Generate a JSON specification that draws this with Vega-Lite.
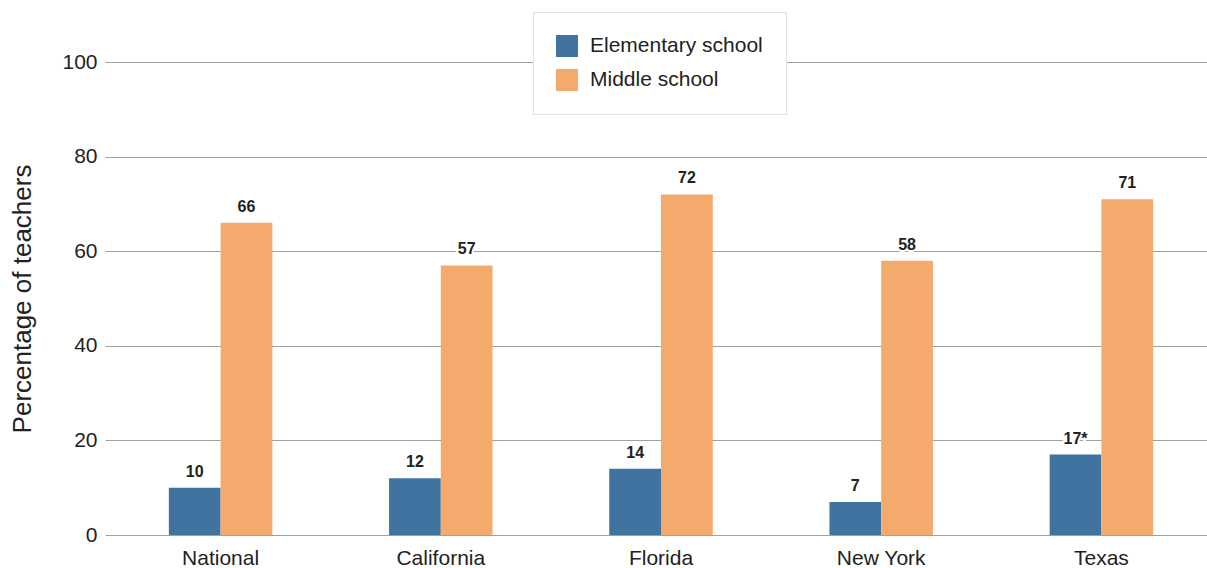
{
  "$schema": "https://vega.github.io/schema/vega-lite/v6.json",
  "width": 1112,
  "height": 473,
  "autosize": {"type": "none"},
  "padding": {"left": 105, "top": 62, "right": -10, "bottom": 33},
  "background": "white",
  "config": {
    "font": "Liberation Sans",
    "view": {"stroke": null}
  },
  "data": {
    "values": [
      {"region": "National", "school": "Elementary school", "value": 10, "label": "10"},
      {"region": "National", "school": "Middle school", "value": 66, "label": "66"},
      {"region": "California", "school": "Elementary school", "value": 12, "label": "12"},
      {"region": "California", "school": "Middle school", "value": 57, "label": "57"},
      {"region": "Florida", "school": "Elementary school", "value": 14, "label": "14"},
      {"region": "Florida", "school": "Middle school", "value": 72, "label": "72"},
      {"region": "New York", "school": "Elementary school", "value": 7, "label": "7"},
      {"region": "New York", "school": "Middle school", "value": 58, "label": "58"},
      {"region": "Texas", "school": "Elementary school", "value": 17, "label": "17*"},
      {"region": "Texas", "school": "Middle school", "value": 71, "label": "71"}
    ]
  },
  "encoding": {
    "x": {
      "field": "region",
      "type": "nominal",
      "sort": ["National", "California", "Florida", "New York", "Texas"],
      "scale": {"paddingInner": 0.53, "paddingOuter": 0.29},
      "axis": {
        "title": null,
        "labelAngle": 0,
        "labelFontSize": 21,
        "labelColor": "#222222",
        "labelPadding": 12,
        "ticks": false,
        "domain": false
      }
    },
    "xOffset": {
      "field": "school",
      "type": "nominal",
      "sort": ["Elementary school", "Middle school"]
    },
    "y": {
      "field": "value",
      "type": "quantitative",
      "scale": {"domain": [0, 100]},
      "axis": {
        "title": "Percentage of teachers",
        "titleFontSize": 26,
        "titleFontWeight": "normal",
        "titleColor": "#222222",
        "titlePadding": 26,
        "values": [0, 20, 40, 60, 80, 100],
        "labelFontSize": 21,
        "labelColor": "#222222",
        "labelPadding": 8,
        "ticks": false,
        "domain": false,
        "gridColor": "#a0a0a0",
        "gridWidth": 1
      }
    }
  },
  "layer": [
    {
      "mark": {"type": "bar"},
      "encoding": {
        "color": {
          "field": "school",
          "type": "nominal",
          "sort": ["Elementary school", "Middle school"],
          "scale": {"range": ["#4173a1", "#f4aa6c"]},
          "legend": {
            "title": null,
            "orient": "none",
            "legendX": 428,
            "legendY": -50,
            "symbolType": "square",
            "symbolSize": 484,
            "symbolStrokeWidth": 0,
            "labelFontSize": 21,
            "labelLimit": 400,
            "labelColor": "#222222",
            "labelOffset": 12,
            "rowPadding": 12,
            "padding": 23,
            "fillColor": "white",
            "strokeColor": "#e2e2e2"
          }
        }
      }
    },
    {
      "mark": {
        "type": "text",
        "baseline": "bottom",
        "dy": -8,
        "fontSize": 16,
        "fontWeight": "bold",
        "color": "#222222",
        "stroke": "white",
        "strokeWidth": 4,
        "strokeOpacity": 1
      },
      "encoding": {"text": {"field": "label"}}
    },
    {
      "mark": {
        "type": "text",
        "baseline": "bottom",
        "dy": -8,
        "fontSize": 16,
        "fontWeight": "bold",
        "color": "#222222"
      },
      "encoding": {"text": {"field": "label"}}
    }
  ]
}
